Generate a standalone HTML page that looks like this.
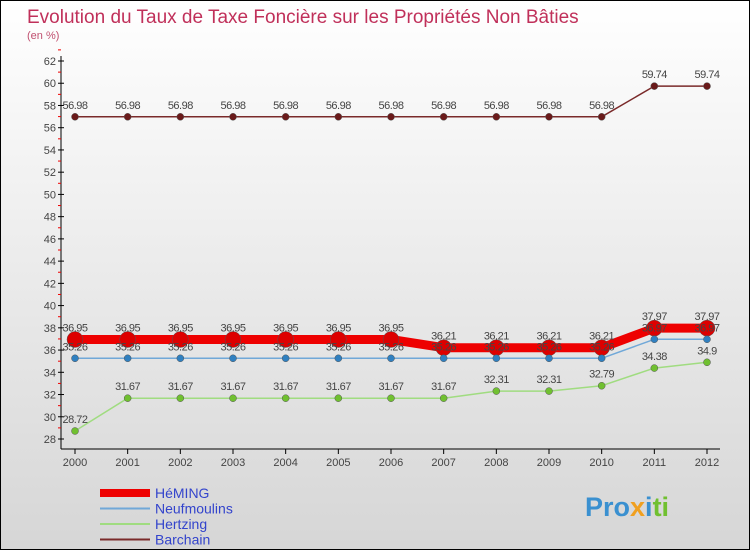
<!DOCTYPE html>
<html><head><meta charset="utf-8"><style>
body{margin:0;}
#c{width:750px;height:550px;position:relative;background:linear-gradient(#fff,#d6d6d6);box-sizing:border-box;border:1px solid #000;font-family:"Liberation Sans",sans-serif;overflow:hidden}
</style></head><body>
<div id="c">
<svg id="s" width="750" height="550" style="position:absolute;left:-1px;top:-1px" font-family="Liberation Sans, sans-serif">
<text x="27" y="23" font-size="19" fill="#c0305a">Evolution du Taux de Taxe Foncière sur les Propriétés Non Bâties</text>
<text x="27" y="39" font-size="11" fill="#c05070">(en %)</text>
<g id="axes"></g><g id="series"></g><g id="legend"></g>
<text x="585" y="516" font-size="27" font-weight="bold" fill="#3a90d0">Pro<tspan fill="#f0a020">x</tspan><tspan fill="#3a90d0">i</tspan><tspan fill="#70c030">ti</tspan></text>
</svg>
</div>
<script>
const years=["2000","2001","2002","2003","2004","2005","2006","2007","2008","2009","2010","2011","2012"];
const yTicks=[28,30,32,34,36,38,40,42,44,46,48,50,52,54,56,58,60,62];
const heming=[36.95,36.95,36.95,36.95,36.95,36.95,36.95,36.21,36.21,36.21,36.21,37.97,37.97];
const neufmoulins=[35.26,35.26,35.26,35.26,35.26,35.26,35.26,35.26,35.26,35.26,35.26,36.97,36.97];
const hertzing=[28.72,31.67,31.67,31.67,31.67,31.67,31.67,31.67,32.31,32.31,32.79,34.38,34.9];
const barchain=[56.98,56.98,56.98,56.98,56.98,56.98,56.98,56.98,56.98,56.98,56.98,59.74,59.74];
const NS="http://www.w3.org/2000/svg";
const x=i=>75+i*(707-75)/(years.length-1);
const y=v=>439-(v-28)*(439-61)/34;
function mk(t,a,p){const e=document.createElementNS(NS,t);for(const k in a)e.setAttribute(k,a[k]);p.appendChild(e);return e;}
const ax=document.getElementById('axes');
const yl=mk('line',{x1:61,y1:56,x2:61,y2:449,stroke:'#000'},ax);


const xl=mk('line',{x1:61,y1:449,x2:720,y2:449,stroke:'#000'},ax);


yTicks.forEach(v=>{
 mk('line',{x1:58,y1:y(v),x2:64,y2:y(v),stroke:'#000'},ax);
 mk('line',{x1:58,y1:y(v+1),x2:61,y2:y(v+1),stroke:'#e00'},ax);
 const t=mk('text',{x:56,y:y(v)+4,'font-size':11,'text-anchor':'end',fill:'#444'},ax);t.textContent=v;
 
 
});
years.forEach((yr,i)=>{
 mk('line',{x1:x(i),y1:449,x2:x(i),y2:454,stroke:'#000'},ax);
 const t=mk('text',{x:x(i),y:466,'font-size':11,'text-anchor':'middle',fill:'#444'},ax);t.textContent=yr;
 
 
});
const sg=document.getElementById('series');
function draw(data,name,color,w,r,dot){
 const g=mk('g',{},sg);
 
 
 mk('polyline',{points:data.map((v,i)=>x(i)+','+y(v)).join(' '),fill:'none',stroke:color,'stroke-width':w,'stroke-linejoin':'round'},g);
 data.forEach((v,i)=>{
  const c=mk('circle',{cx:x(i),cy:y(v),r:r,fill:dot,stroke:'#555','stroke-width':0.5},g);
  
  
 });
 data.forEach((v,i)=>{
  const t=mk('text',{x:x(i),y:y(v)-8,'font-size':11,'text-anchor':'middle',fill:'#444','letter-spacing':'-0.5'},g);t.textContent=v;
  
  
 });
}
draw(barchain,'barchain','#7a2a2a',1.5,3.5,'#6a1a1a');
draw(hertzing,'hertzing','#a0dc80',1.5,3.5,'#70c030');
draw(heming,'heming','#ee0000',9,8,'#dd0000');
draw(neufmoulins,'neufmoulins','#70a8d8',1.5,3.5,'#3080c0');
const lg=document.getElementById('legend');
[["HéMING","#ee0000",8],["Neufmoulins","#70a8d8",2],["Hertzing","#a0dc80",2],["Barchain","#7a2a2a",2]].forEach((d,i)=>{
 const yy=493+i*15.5;
 const g=mk('g',{},lg);
 
 
 mk('line',{x1:100,y1:yy,x2:150,y2:yy,stroke:d[1],'stroke-width':d[2]},g);
 const t=mk('text',{x:155,y:yy+5,'font-size':14,fill:'#3344cc'},g);t.textContent=d[0];
});
</script>
</body></html>
